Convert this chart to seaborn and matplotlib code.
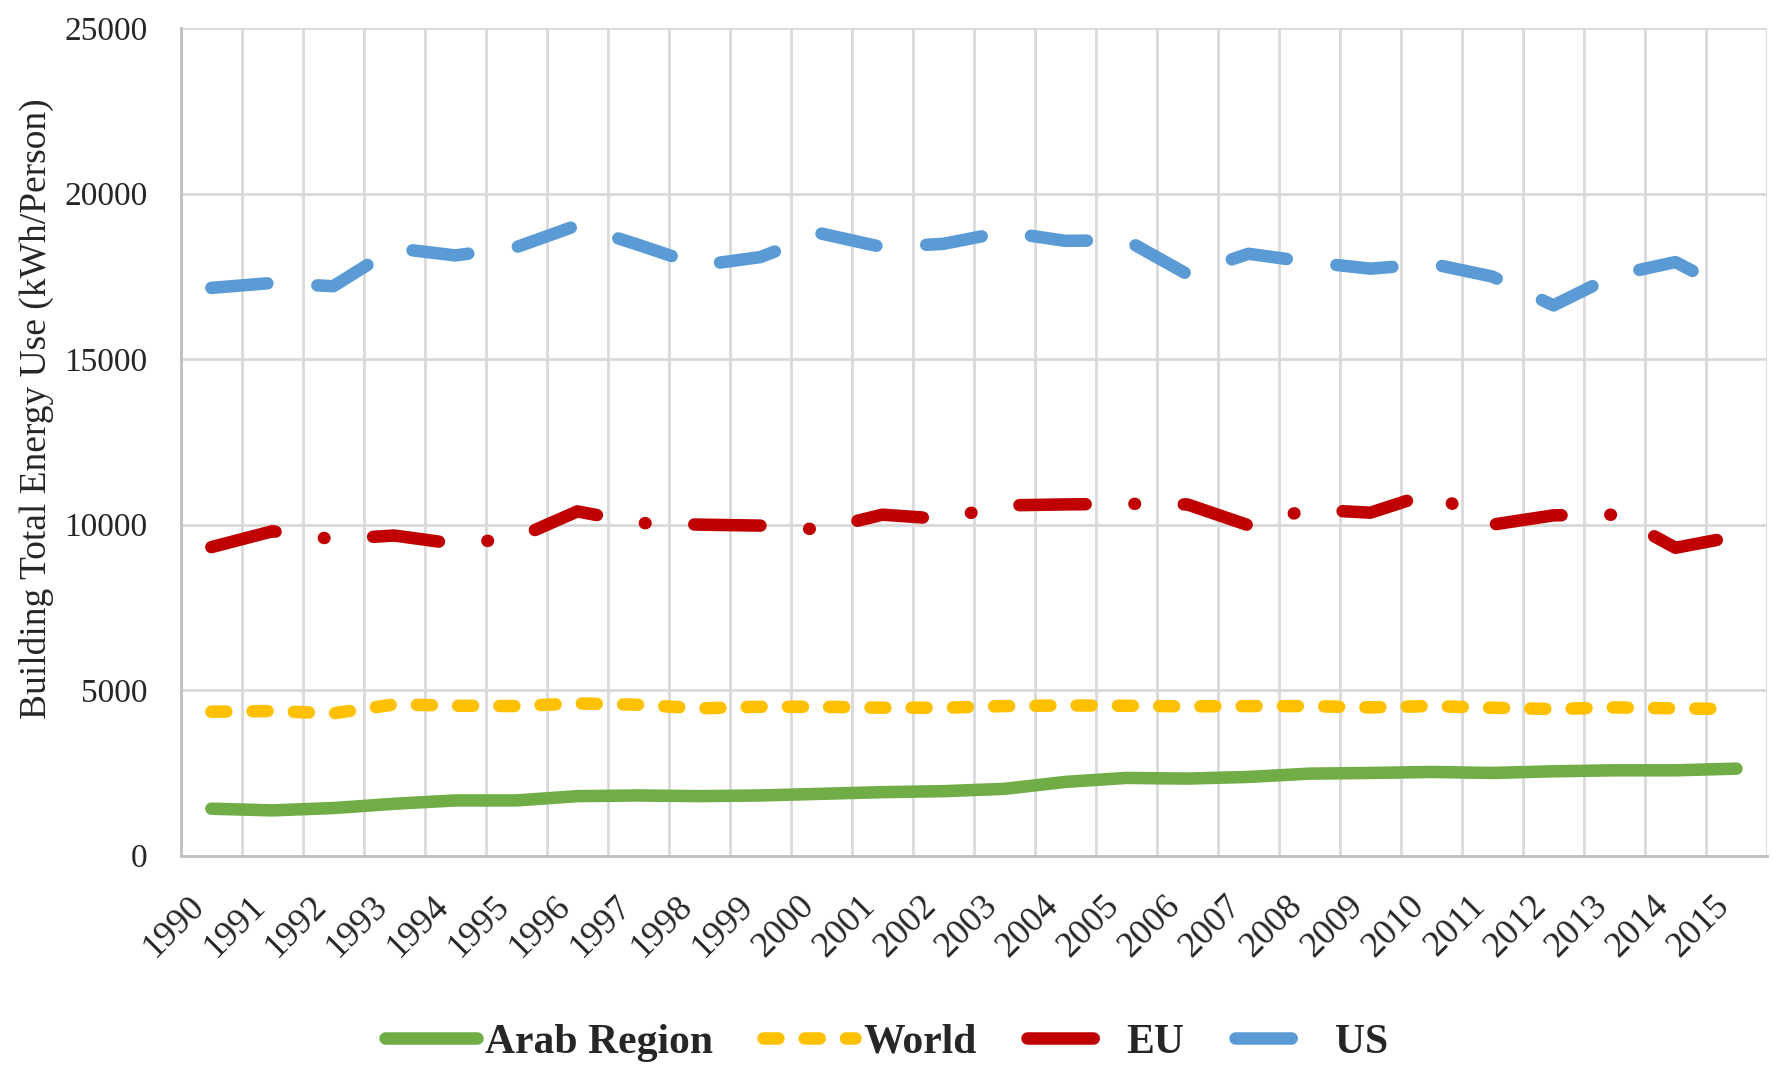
import numpy as np
import pandas as pd
import matplotlib
matplotlib.use("Agg")
import matplotlib.pyplot as plt
import seaborn as sns

years = [str(y) for y in range(1990, 2016)]

arab = [1420, 1370, 1440, 1570, 1670, 1670, 1800, 1820, 1800, 1820, 1870, 1920, 1950,
        2020, 2230, 2350, 2330, 2380, 2480, 2500, 2530, 2500, 2550, 2580, 2580, 2630]
world = [4350, 4370, 4300, 4570, 4530, 4520, 4600, 4560, 4450, 4500, 4500, 4470, 4470,
         4520, 4540, 4530, 4510, 4520, 4520, 4480, 4520, 4470, 4430, 4480, 4450, 4430]
eu = [9320, 9800, 9560, 9670, 9420, 9590, 10400, 10050, 10000, 9970, 9850, 10300, 10170,
      10580, 10610, 10630, 10610, 9980, 10460, 10360, 10960, 10000, 10280, 10300, 9300, 9650]
us = [17150, 17300, 17200, 18350, 18130, 18380, 19040, 18450, 17830, 18080, 18790, 18380, 18480,
      18840, 18570, 18590, 17560, 18180, 17930, 17730, 17880, 17490, 16620, 17530, 17930, 16970]

series_names = ["Arab Region", "World", "EU", "US"]
series_values = [arab, world, eu, us]
colors = ["#70AD47", "#FFC000", "#C00000", "#5B9BD5"]
dash_styles = [None, (1.2, 2.1), (5.3, 3.9, 0.05, 3.9), (4.5, 4.0)]

sns.set_style("white")
plt.rcParams["font.family"] = ["Liberation Serif", "DejaVu Serif"]

fig, ax = plt.subplots(figsize=(17.73, 10.67), dpi=100)
fig.subplots_adjust(left=0.102, right=0.9966, top=0.9738, bottom=0.198)

x = np.arange(len(years))
for name, vals, col, ds in zip(series_names, series_values, colors, dash_styles):
    df = pd.DataFrame({"x": x, "y": vals})
    kw = dict(color=col, linewidth=9, label=name, solid_capstyle="round",
              dash_capstyle="round")
    if ds is not None:
        kw["dashes"] = ds
    sns.lineplot(data=df, x="x", y="y", ax=ax, **kw)

ax.set_xlim(-0.5, len(years) - 0.5)
ax.set_ylim(0, 25000)
ax.set_yticks(range(0, 25001, 5000))
ax.set_xticks(x)
ax.set_xticklabels(years, rotation=45, ha="right", va="top", fontsize=26)
ax.set_xticks(np.arange(-0.5, len(years)), minor=True)
ax.tick_params(axis="y", labelsize=24, pad=24, length=0)
ax.tick_params(axis="x", which="both", length=0, pad=24)

ax.grid(False)
ax.yaxis.grid(True, color="#D9D9D9", linewidth=2)
ax.xaxis.grid(True, which="minor", color="#D9D9D9", linewidth=2)
for side in ["top", "right"]:
    ax.spines[side].set_visible(False)
for side in ["left", "bottom"]:
    ax.spines[side].set_color("#BFBFBF")
    ax.spines[side].set_linewidth(2)

ax.set_xlabel("")
ax.set_ylabel("Building Total Energy Use (kWh/Person)", fontsize=27)
ax.yaxis.set_label_coords(-0.08, 0.54)

ax.legend(loc="lower center", bbox_to_anchor=(0.5, -0.03), bbox_transform=fig.transFigure,
          ncol=4, frameon=False, handlelength=2.2, handletextpad=0.2, columnspacing=1.2,
          prop={"weight": "bold", "size": 30})

fig.savefig("out.png", dpi=100)
